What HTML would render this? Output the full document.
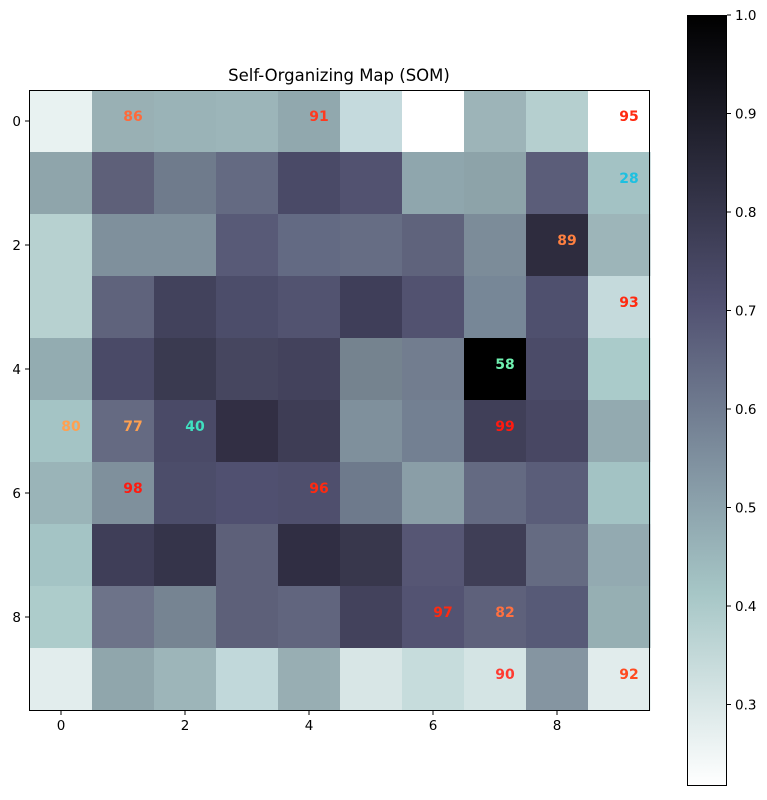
<!DOCTYPE html>
<html><head><style>
body{margin:0;background:#fff;width:767px;height:795px;overflow:hidden;font-family:"Liberation Sans","DejaVu Sans",sans-serif}
</style></head><body>
<svg width="767" height="795" xmlns="http://www.w3.org/2000/svg" font-family="DejaVu Sans, Liberation Sans, sans-serif">
<defs>
<linearGradient id="g" x1="0" y1="0" x2="0" y2="1">
<stop offset="0" stop-color="#000000"/>
<stop offset="0.375" stop-color="#515171"/>
<stop offset="0.75" stop-color="#a6c6c6"/>
<stop offset="1" stop-color="#ffffff"/>
</linearGradient>
</defs>
<text x="339" y="81" font-size="16.5" text-anchor="middle">Self-Organizing Map (SOM)</text>
<g id="cells"></g>
<rect x="29.5" y="90.5" width="620" height="620" fill="none" stroke="#000" stroke-width="1"/>
<g id="labels" font-size="14" font-weight="bold" text-anchor="middle"></g>
<g font-size="13.5" fill="#000">
<g stroke="#000">
<line x1="61" y1="711" x2="61" y2="715"/><line x1="185" y1="711" x2="185" y2="715"/><line x1="309" y1="711" x2="309" y2="715"/><line x1="433" y1="711" x2="433" y2="715"/><line x1="557" y1="711" x2="557" y2="715"/>
<line x1="25" y1="121" x2="29" y2="121"/><line x1="25" y1="245" x2="29" y2="245"/><line x1="25" y1="369" x2="29" y2="369"/><line x1="25" y1="493" x2="29" y2="493"/><line x1="25" y1="617" x2="29" y2="617"/>
</g>
<text x="61" y="730" text-anchor="middle">0</text><text x="185" y="730" text-anchor="middle">2</text><text x="309" y="730" text-anchor="middle">4</text><text x="433" y="730" text-anchor="middle">6</text><text x="557" y="730" text-anchor="middle">8</text>
<text x="21" y="126" text-anchor="end">0</text><text x="21" y="250" text-anchor="end">2</text><text x="21" y="374" text-anchor="end">4</text><text x="21" y="498" text-anchor="end">6</text><text x="21" y="622" text-anchor="end">8</text>
</g>
<rect x="687.5" y="15.5" width="39" height="770" fill="url(#g)" stroke="#000" stroke-width="1"/>
<g id="cb" font-size="13.5"></g>
</svg>
<script>
const C=[
["#e8f2f1","#99b0b4","#9ab3b7","#9cb5b9","#91a8ae","#c5dadd","#ffffff","#9db4b8","#b5cfcf","#ffffff"],
["#8fa5ab","#5e6079","#6f7b8c","#646a82","#4a4a67","#525270","#8fa6ad","#8da3a9","#5b5d79","#a3c2c4"],
["#b7d1d0","#7f909c","#7f909c","#585a77","#636a83","#666d84","#5f637c","#7c8c99","#2e2c3e","#9db5b9"],
["#b7d1d0","#5f637c","#42425c","#4c4d6a","#525370","#3f3e59","#525270","#778797","#4f506e","#c5dadc"],
["#93acb1","#4a4a67","#3a3a50","#46465f","#43425c","#75838f","#727d8f","#000000","#4b4b68","#aacbca"],
["#a4c4c5","#656a82","#4a4a67","#322f44","#3e3d55","#7f909c","#738092","#403f58","#484763","#93aab0"],
["#9ab4b8","#7f909c","#4c4d6a","#505070","#4f4f6d","#6e7a8c","#8a9ea7","#646a82","#5a5d79","#a3c3c4"],
["#a4c4c5","#3f3e58","#35344a","#5d6079","#302e43","#38374c","#565674","#3f3e56","#656b82","#93aab1"],
["#adcccb","#6d7389","#768492","#5d6079","#61657e","#43425c","#535372","#5e617b","#575a77","#96afb3"],
["#e2eded","#90a6ac","#9db5b9","#c1d8da","#98aeb3","#d8e6e6","#c6dcdc","#d4e4e4","#8595a1","#e1ecec"]];
const ns="http://www.w3.org/2000/svg";
const g=document.getElementById("cells");
for(let r=0;r<10;r++)for(let c=0;c<10;c++){const e=document.createElementNS(ns,"rect");e.setAttribute("x",30+c*62);e.setAttribute("y",90+r*62);e.setAttribute("width",62.5);e.setAttribute("height",62.5);e.setAttribute("fill",C[r][c]);g.appendChild(e);}
const L=[[0,1,"86","#ff6a3a"],[0,4,"91","#ff3a20"],[0,9,"95","#ff2a10"],[1,9,"28","#1ec0e0"],[2,8,"89","#ff8040"],[3,9,"93","#ff2a10"],[4,7,"58","#6ff0b0"],[5,0,"80","#ffa050"],[5,1,"77","#ffa050"],[5,2,"40","#40e0c0"],[5,7,"99","#ff1a10"],[6,1,"98","#ff1a10"],[6,4,"96","#ff2a10"],[8,6,"97","#ff2a10"],[8,7,"82","#ff7040"],[9,7,"90","#ff3a30"],[9,9,"92","#ff4a20"]];
const lg=document.getElementById("labels");
for(const [r,c,t,col] of L){const e=document.createElementNS(ns,"text");e.setAttribute("x",61+c*62+10);e.setAttribute("y",121+r*62);e.setAttribute("fill",col);e.textContent=t;lg.appendChild(e);}
const cb=document.getElementById("cb");
for(let i=0;i<8;i++){const v=(1-i*0.1).toFixed(1);const y=15+i*98.5;
const l=document.createElementNS(ns,"line");l.setAttribute("x1",727);l.setAttribute("x2",731);l.setAttribute("y1",y);l.setAttribute("y2",y);l.setAttribute("stroke","#000");cb.appendChild(l);
const t=document.createElementNS(ns,"text");t.setAttribute("x",735);t.setAttribute("y",y+5);t.textContent=v;cb.appendChild(t);}
</script>
</body></html>
